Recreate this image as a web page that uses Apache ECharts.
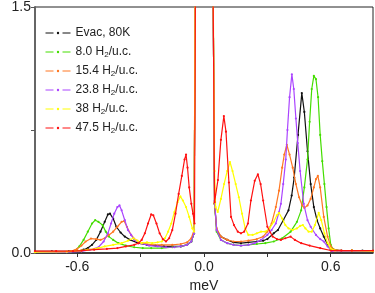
<!DOCTYPE html>
<html>
<head>
<meta charset="utf-8">
<script src="https://cdn.jsdelivr.net/npm/echarts@6/dist/echarts.min.js"></script>
<style>html,body{margin:0;padding:0;background:#fff}#c{width:375px;height:293px}</style>
</head>
<body>
<div id="c"></div>
<script>
// ---- data (energy meV, intensity) ----
const seriesNames = ['Evac, 80K', '8.0 H2/u.c.', '15.4 H2/u.c.', '23.8 H2/u.c.', '38 H2/u.c.', '47.5 H2/u.c.'];
const seriesColors = ['#111111', '#44dd00', '#ff7722', '#aa44ff', '#ffff00', '#ff1111'];
const xTickValues = [-0.6, -0.3, 0, 0.3, 0.6];
const xLabelValues = [-0.6, 0, 0.6];
const yTickValues = [0, 0.75, 1.5];
const yLabelValues = [0, 1.5];

const evacData = [[-0.8,0.01],[-0.72,0.01],[-0.64,0.01],[-0.6,0.012],[-0.57,0.02],[-0.55,0.03],[-0.53,0.05],[-0.51,0.08],[-0.49,0.13],[-0.47,0.19],[-0.455,0.235],[-0.445,0.24],[-0.43,0.21],[-0.415,0.16],[-0.395,0.125],[-0.375,0.1],[-0.35,0.08],[-0.31,0.06],[-0.27,0.05],[-0.23,0.045],[-0.19,0.04],[-0.15,0.04],[-0.11,0.04],[-0.08,0.05],[-0.06,0.07],[-0.047,0.12],[-0.04,2.0],[-0.02,6],[0,9],[0.02,6],[0.04,2.2],[0.05,0.3],[0.06,0.14],[0.08,0.1],[0.11,0.08],[0.14,0.065],[0.175,0.06],[0.21,0.065],[0.25,0.07],[0.28,0.075],[0.30,0.085],[0.33,0.12],[0.35,0.14],[0.375,0.2],[0.40,0.26],[0.415,0.35],[0.427,0.46],[0.445,0.72],[0.463,0.975],[0.475,0.86],[0.49,0.62],[0.505,0.42],[0.52,0.28],[0.535,0.2],[0.55,0.15],[0.567,0.1],[0.585,0.05],[0.6,0.02],[0.65,0.015],[0.7,0.015],[0.75,0.015],[0.8,0.012]];
const h8Data = [[-0.8,0.005],[-0.7,0.005],[-0.63,0.008],[-0.61,0.015],[-0.59,0.04],[-0.57,0.08],[-0.55,0.13],[-0.53,0.18],[-0.515,0.2],[-0.5,0.19],[-0.48,0.17],[-0.465,0.13],[-0.45,0.1],[-0.43,0.08],[-0.405,0.06],[-0.37,0.045],[-0.33,0.035],[-0.29,0.03],[-0.25,0.03],[-0.2,0.03],[-0.15,0.035],[-0.11,0.04],[-0.08,0.05],[-0.06,0.07],[-0.047,0.12],[-0.04,2.0],[-0.02,6],[0,9],[0.02,6],[0.04,2.2],[0.05,0.3],[0.06,0.13],[0.08,0.08],[0.11,0.06],[0.14,0.05],[0.175,0.045],[0.21,0.05],[0.25,0.055],[0.29,0.06],[0.33,0.07],[0.37,0.09],[0.41,0.13],[0.44,0.19],[0.46,0.26],[0.475,0.4],[0.49,0.57],[0.50,0.8],[0.51,1.0],[0.52,1.08],[0.53,1.06],[0.54,0.95],[0.55,0.72],[0.56,0.56],[0.57,0.42],[0.58,0.28],[0.59,0.15],[0.6,0.05],[0.61,0.025],[0.63,0.015],[0.7,0.015],[0.8,0.012]];
const h15Data = [[-0.8,0.005],[-0.7,0.005],[-0.63,0.01],[-0.6,0.025],[-0.58,0.045],[-0.56,0.07],[-0.535,0.088],[-0.51,0.085],[-0.49,0.08],[-0.47,0.09],[-0.45,0.11],[-0.43,0.13],[-0.41,0.16],[-0.39,0.19],[-0.378,0.195],[-0.365,0.16],[-0.345,0.11],[-0.32,0.075],[-0.29,0.06],[-0.25,0.05],[-0.2,0.05],[-0.15,0.05],[-0.11,0.055],[-0.08,0.065],[-0.06,0.09],[-0.047,0.14],[-0.04,2.2],[-0.02,6],[0,9],[0.02,6],[0.04,2.2],[0.05,0.3],[0.06,0.15],[0.08,0.1],[0.11,0.08],[0.14,0.07],[0.175,0.07],[0.21,0.075],[0.25,0.085],[0.28,0.1],[0.30,0.13],[0.32,0.18],[0.34,0.28],[0.355,0.38],[0.37,0.52],[0.38,0.6],[0.392,0.66],[0.405,0.6],[0.42,0.52],[0.435,0.42],[0.45,0.34],[0.465,0.29],[0.475,0.275],[0.49,0.29],[0.505,0.33],[0.52,0.4],[0.53,0.45],[0.539,0.47],[0.55,0.4],[0.567,0.22],[0.585,0.1],[0.6,0.04],[0.615,0.02],[0.65,0.015],[0.7,0.015],[0.8,0.012]];
const h23Data = [[-0.8,0.005],[-0.65,0.005],[-0.58,0.01],[-0.54,0.02],[-0.5,0.035],[-0.475,0.07],[-0.455,0.12],[-0.44,0.18],[-0.425,0.24],[-0.41,0.28],[-0.40,0.29],[-0.39,0.26],[-0.375,0.2],[-0.36,0.14],[-0.345,0.11],[-0.33,0.08],[-0.3,0.06],[-0.26,0.045],[-0.22,0.04],[-0.18,0.035],[-0.14,0.035],[-0.11,0.04],[-0.08,0.05],[-0.06,0.07],[-0.047,0.12],[-0.04,2.0],[-0.02,6],[0,9],[0.02,6],[0.04,2.2],[0.05,0.32],[0.06,0.14],[0.08,0.08],[0.11,0.06],[0.14,0.05],[0.175,0.045],[0.21,0.05],[0.24,0.06],[0.27,0.08],[0.30,0.11],[0.32,0.14],[0.34,0.18],[0.355,0.25],[0.364,0.3],[0.375,0.42],[0.387,0.57],[0.395,0.75],[0.405,0.95],[0.416,1.09],[0.425,1.0],[0.435,0.82],[0.444,0.67],[0.455,0.5],[0.472,0.3],[0.49,0.2],[0.505,0.16],[0.53,0.11],[0.55,0.085],[0.567,0.07],[0.585,0.04],[0.605,0.012],[0.65,0.012],[0.8,0.012]];
const h38Data = [[-0.8,0.005],[-0.65,0.008],[-0.58,0.015],[-0.55,0.02],[-0.5,0.03],[-0.47,0.04],[-0.43,0.05],[-0.39,0.06],[-0.36,0.075],[-0.335,0.09],[-0.315,0.075],[-0.295,0.06],[-0.27,0.065],[-0.245,0.06],[-0.22,0.065],[-0.2,0.07],[-0.185,0.09],[-0.17,0.13],[-0.155,0.18],[-0.14,0.25],[-0.125,0.31],[-0.112,0.345],[-0.1,0.32],[-0.085,0.28],[-0.07,0.22],[-0.055,0.15],[-0.047,0.13],[-0.04,2.1],[-0.02,6],[0,9],[0.02,6],[0.04,2.2],[0.05,0.5],[0.055,0.28],[0.065,0.25],[0.08,0.33],[0.095,0.42],[0.11,0.5],[0.123,0.555],[0.135,0.5],[0.15,0.42],[0.165,0.34],[0.18,0.24],[0.195,0.15],[0.21,0.11],[0.23,0.11],[0.25,0.12],[0.27,0.13],[0.29,0.13],[0.31,0.15],[0.33,0.19],[0.345,0.23],[0.355,0.245],[0.37,0.21],[0.385,0.17],[0.40,0.15],[0.42,0.14],[0.44,0.15],[0.455,0.165],[0.468,0.17],[0.48,0.15],[0.495,0.13],[0.51,0.13],[0.525,0.17],[0.543,0.245],[0.555,0.2],[0.57,0.12],[0.585,0.06],[0.6,0.025],[0.62,0.015],[0.7,0.015],[0.8,0.012]];
const h47Data = [[-0.8,0.012],[-0.7,0.012],[-0.62,0.012],[-0.58,0.015],[-0.52,0.02],[-0.46,0.025],[-0.41,0.03],[-0.37,0.04],[-0.33,0.05],[-0.31,0.06],[-0.295,0.08],[-0.28,0.12],[-0.265,0.18],[-0.25,0.235],[-0.24,0.23],[-0.225,0.18],[-0.21,0.12],[-0.195,0.085],[-0.18,0.07],[-0.165,0.09],[-0.15,0.14],[-0.135,0.24],[-0.12,0.36],[-0.105,0.47],[-0.092,0.57],[-0.085,0.6],[-0.078,0.52],[-0.07,0.4],[-0.06,0.3],[-0.052,0.24],[-0.045,0.18],[-0.04,1.8],[-0.02,6],[0,9],[0.02,6],[0.04,2.2],[0.05,0.31],[0.066,0.445],[0.08,0.69],[0.094,0.835],[0.104,0.74],[0.118,0.43],[0.128,0.22],[0.142,0.17],[0.16,0.13],[0.175,0.12],[0.19,0.13],[0.208,0.18],[0.222,0.32],[0.24,0.44],[0.255,0.48],[0.268,0.42],[0.28,0.32],[0.30,0.16],[0.325,0.1],[0.345,0.085],[0.364,0.08],[0.385,0.09],[0.41,0.1],[0.43,0.08],[0.46,0.06],[0.5,0.045],[0.55,0.03],[0.6,0.015],[0.65,0.015],[0.7,0.015],[0.8,0.015]];
const allData = [evacData, h8Data, h15Data, h23Data, h38Data, h47Data];

const FONT = '"Liberation Sans", Arial, sans-serif';
const chart = echarts.init(document.getElementById('c'), null, {renderer: 'canvas'});

function legendFmt(name) {
  return name.replace('H2', 'H{sub|2}');
}

chart.setOption({
  animation: false,
  backgroundColor: '#fff',
  grid: {left: 35, top: 7, right: 2, bottom: 40, containLabel: false, outerBoundsMode: 'none',
    show: true, borderColor: '#222', borderWidth: 1, backgroundColor: 'transparent'},
  legend: {
    orient: 'vertical', left: 45, top: 26, padding: 0,
    itemWidth: 25, itemHeight: 3, itemGap: 5,
    data: seriesNames,
    formatter: legendFmt,
    lineStyle: {width: 1, type: [8, 9]},
    textStyle: {
      fontFamily: FONT, fontSize: 12, color: '#222', lineHeight: 14,
      rich: {sub: {fontFamily: FONT, fontSize: 8, lineHeight: 8, padding: [6, 0, 0, 0], verticalAlign: 'top', color: '#222'}}
    }
  },
  xAxis: {
    type: 'value', min: -0.8, max: 0.8,
    name: 'meV', nameLocation: 'middle', nameGap: 25,
    nameTextStyle: {fontFamily: FONT, fontSize: 14, color: '#222'},
    axisLine: {show: true, onZero: false, lineStyle: {color: '#222', width: 1.5}},
    axisTick: {show: true, length: 4, inside: false, customValues: xTickValues, lineStyle: {color: '#333', width: 1}},
    axisLabel: {customValues: xLabelValues, margin: 7, fontFamily: FONT, fontSize: 14, color: '#222',
      formatter: v => v.toFixed(1)},
    splitLine: {show: false}
  },
  yAxis: {
    type: 'value', min: 0, max: 1.5,
    name: '~S(Q,ω)', nameLocation: 'middle', nameGap: 12,
    nameTextStyle: {fontFamily: FONT, fontSize: 15, color: '#222'},
    axisLine: {show: true, onZero: false, lineStyle: {color: '#666', width: 2}},
    axisTick: {show: true, length: 4, inside: false, customValues: yTickValues, lineStyle: {color: '#555', width: 1}},
    axisLabel: {customValues: yLabelValues, margin: 4, fontFamily: FONT, fontSize: 14, color: '#222',
      formatter: v => v.toFixed(1)},
    splitLine: {show: false}
  },
  series: seriesNames.map((n, i) => ({
    name: n, type: 'line', data: allData[i],
    color: seriesColors[i],
    symbol: 'circle', symbolSize: 2.2, showSymbol: true,
    lineStyle: {width: 1.2, color: seriesColors[i]},
    itemStyle: {color: seriesColors[i]},
    clip: true, z: 2 + i
  }))
});
</script>
</body>
</html>
